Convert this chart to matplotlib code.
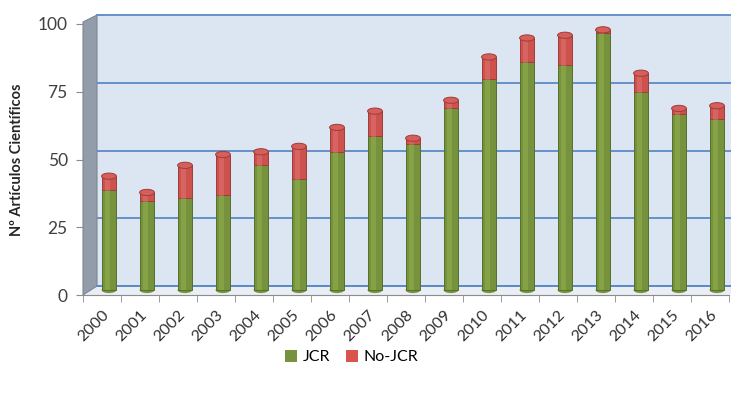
import numpy as np
import matplotlib.pyplot as plt
from matplotlib.patches import Ellipse, Polygon, Rectangle
from matplotlib.transforms import ScaledTranslation, IdentityTransform

plt.rcParams['font.family'] = ['Lato', 'DejaVu Sans']

years = ['2000', '2001', '2002', '2003', '2004', '2005', '2006', '2007', '2008',
         '2009', '2010', '2011', '2012', '2013', '2014', '2015', '2016']
jcr = [37, 33, 34, 35, 46, 41, 51, 57, 54, 67, 78, 84, 83, 95, 73, 65, 63]
no_jcr = [5, 3, 12, 15, 5, 12, 9, 9, 2, 3, 8, 9, 11, 1, 7, 2, 5]
y_ticks = [0, 25, 50, 75, 100]

W, H = 731, 398
fig = plt.figure(figsize=(W / 100, H / 100), dpi=100)
ax = fig.add_axes([83 / W, (H - 295) / H, 646 / W, 271 / H])
ax.set_xlim(-0.5, 16.5)
ax.set_ylim(0, 100)
ax.patch.set_visible(False)
for s in ['top', 'right', 'left']:
    ax.spines[s].set_visible(False)
ax.spines['bottom'].set_color('#8c8c8c')


def shift(dx, dy):
    # pixel offset on top of data coordinates (fake depth)
    return ax.transData + ScaledTranslation(dx / 100, dy / 100, fig.dpi_scale_trans)


def disp(x, y, dx=0, dy=0):
    p = ax.transData.transform((x, y))
    return (p[0] + dx, p[1] + dy)


DX, DY = 14, 9
back = shift(DX, DY)
mid = shift(7, 5)

# back wall + gridlines
ax.add_patch(Rectangle((-0.5, 0), 18, 100, transform=back, fc='#dce6f2',
                       ec='none', zorder=0, clip_on=False))
for v in y_ticks:
    ax.plot([-0.5, 17.5], [v, v], transform=back, color='#5b8ac6', lw=1.3,
            zorder=0.5, clip_on=False)

# side wall and floor
side = [disp(-0.5, 0), disp(-0.5, 0, DX, DY), disp(-0.5, 100, DX, DY), disp(-0.5, 100, 0, 2)]
ax.add_patch(Polygon(side, closed=True, transform=IdentityTransform(),
                     fc='#939daa', ec='#7d8793', lw=0.8, zorder=0.6, clip_on=False))
floor = [disp(-0.5, 0), disp(16.5, 0), disp(16.5, 0, DX, DY), disp(-0.5, 0, DX, DY)]
ax.add_patch(Polygon(floor, closed=True, transform=IdentityTransform(),
                     fc='#e9eef5', ec='none', zorder=0.4, clip_on=False))
ax.plot([-0.5, 16.5], [0, 0], transform=back, color='#5b8ac6', lw=1.3,
        zorder=0.7, clip_on=False)

# stacked cylinders
x = np.arange(len(years))
bw = 0.39
cap_h = 2.3
green, green_dk, green_lt = '#76923c', '#55702a', '#9cbc5a'
red, red_dk, red_lt = '#cd524e', '#a03c39', '#e8817d'

b1 = ax.bar(x, jcr, width=bw, color=green, edgecolor=green_dk, lw=0.7, zorder=3)
b2 = ax.bar(x, no_jcr, bottom=jcr, width=bw, color=red, edgecolor=red_dk, lw=0.7, zorder=3)
h1 = ax.bar(x - 0.04, jcr, width=0.14, color=green_lt, alpha=0.4, lw=0, zorder=3.1)
h2 = ax.bar(x - 0.04, no_jcr, bottom=jcr, width=0.14, color=red_lt, alpha=0.4, lw=0, zorder=3.1)
for bars in (b1, b2, h1, h2):
    for p in bars:
        p.set_transform(mid)
        p.set_clip_on(False)

for i in x:
    top = jcr[i] + no_jcr[i]
    ax.add_patch(Ellipse((i, 0), bw, cap_h, transform=mid, fc=green, ec='none',
                         zorder=2.9, clip_on=False))
    ax.add_patch(Ellipse((i, top), bw, cap_h, transform=mid, fc='#d45f5b', ec=red_dk,
                         lw=0.7, zorder=4, clip_on=False))

# axes ticks and labels
ax.set_yticks(y_ticks)
ax.tick_params(axis='y', length=5, color='#8c8c8c', labelsize=12.5,
               labelcolor='#404040', pad=6)
ax.set_xticks(x)
ax.set_xticklabels(years, rotation=45, ha='right', rotation_mode='anchor',
                   fontsize=11.5, color='#303030')
ax.tick_params(axis='x', which='major', length=0, pad=9)
ax.set_xticks(np.arange(-0.5, 17, 1), minor=True)
ax.tick_params(axis='x', which='minor', length=5, color='#8c8c8c')

fig.text(17 / W, 1 - 160 / H, 'Nº Artículos Científicos', rotation=90,
         ha='center', va='center', fontsize=10.5, fontweight='bold', color='#262626')

handles = [Rectangle((0, 0), 1, 1, fc=green), Rectangle((0, 0), 1, 1, fc='#d9534f')]
fig.legend(handles, ['JCR', 'No-JCR'], loc='center', ncol=2, frameon=False,
           bbox_to_anchor=(352 / W, 1 - 357 / H), fontsize=11.5,
           handlelength=0.7, handleheight=0.8, handletextpad=0.4, columnspacing=1.0)

fig.savefig('out.png', dpi=100)
